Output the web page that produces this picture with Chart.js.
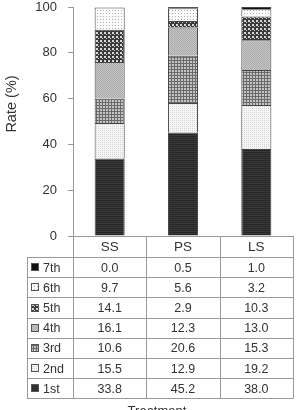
<!DOCTYPE html>
<html lang="en">
<head>
    <meta charset="UTF-8">
    <title>Rate by treatment</title>
    <script src="https://cdn.jsdelivr.net/npm/chart.js"></script>
    <style>
        body {
            margin: 0;
            padding: 0;
            background: #fff;
        }
        #chart-box {
            width: 296px;
            height: 410px;
        }
    </style>
</head>
<body>
    <div id="chart-box">
        <canvas id="rateChart" width="296" height="410"></canvas>
    </div>

    <script>
        // Data
        const treatments = ['SS', 'PS', 'LS'];
        const stageNames = ['1st', '2nd', '3rd', '4th', '5th', '6th', '7th'];
        const rate1st = [33.8, 45.2, 38.0];
        const rate2nd = [15.5, 12.9, 19.2];
        const rate3rd = [10.6, 20.6, 15.3];
        const rate4th = [16.1, 12.3, 13.0];
        const rate5th = [14.1, 2.9, 10.3];
        const rate6th = [9.7, 5.6, 3.2];
        const rate7th = [0.0, 0.5, 1.0];
        const stageRates = [rate1st, rate2nd, rate3rd, rate4th, rate5th, rate6th, rate7th];
        const yTicks = [0, 20, 40, 60, 80, 100];

        const textColor = '#333';
        const lineColor = '#999';
        const fontName = '"Liberation Sans", Arial, sans-serif';

        // small pixel patterns, one per stage
        function makePattern(size, bg, dots) {
            const c = document.createElement('canvas');
            c.width = size;
            c.height = size;
            const g = c.getContext('2d');
            g.fillStyle = bg;
            g.fillRect(0, 0, size, size);
            dots.forEach(d => {
                g.fillStyle = d[2];
                g.fillRect(d[0], d[1], d[3] || 1, d[4] || 1);
            });
            return g.createPattern(c, 'repeat');
        }

        const patterns = [
            makePattern(2, '#3a3a3a', [[0, 0, '#262626', 2, 1]]),                 // 1st
            makePattern(2, '#f6f6f6', [[0, 0, '#d4d4d4']]),                       // 2nd
            makePattern(3, '#c4c4c4', [[0, 0, '#6a6a6a', 3, 1], [0, 0, '#6a6a6a', 1, 3]]), // 3rd
            makePattern(2, '#c8c8c8', [[0, 0, '#a8a8a8'], [1, 1, '#a8a8a8']]),    // 4th
            makePattern(4, '#3a3a3a', [[0, 0, '#d8d8d8', 2, 2], [2, 2, '#d8d8d8', 1, 1]]), // 5th
            makePattern(3, '#fafafa', [[1, 1, '#b0b0b0']]),                       // 6th
            makePattern(1, '#111', [])                                            // 7th
        ];

        const datasets = stageNames.map((name, i) => ({
            label: name,
            data: stageRates[i],
            backgroundColor: patterns[i],
            borderColor: '#444',
            borderWidth: 1,
            barPercentage: 0.41,
            categoryPercentage: 1
        }));

        // table under the plot: category row + one row per stage
        const tablePlugin = {
            id: 'rateTable',
            afterDraw(chart) {
                const ctx = chart.ctx;
                const area = chart.chartArea;
                const x = chart.scales.x;
                const colW = (area.right - area.left) / treatments.length;
                const headTop = area.bottom;
                const headBottom = headTop + 21;
                const rowH = 20.2;
                const tableLeft = 27;
                const tableBottom = headBottom + rowH * stageNames.length;

                ctx.save();
                ctx.strokeStyle = lineColor;
                ctx.lineWidth = 1;

                // horizontal lines
                ctx.beginPath();
                ctx.moveTo(area.left, headTop + 0.5);
                ctx.lineTo(area.right, headTop + 0.5);
                for (let r = 0; r <= stageNames.length; r++) {
                    const y = Math.round(headBottom + r * rowH) + 0.5;
                    ctx.moveTo(tableLeft, y);
                    ctx.lineTo(area.right, y);
                }
                // vertical lines
                for (let c = 0; c <= treatments.length; c++) {
                    const xx = Math.round(area.left + c * colW) + 0.5;
                    ctx.moveTo(xx, headTop);
                    ctx.lineTo(xx, tableBottom);
                }
                ctx.moveTo(tableLeft + 0.5, headBottom);
                ctx.lineTo(tableLeft + 0.5, tableBottom);
                ctx.stroke();

                ctx.fillStyle = textColor;
                ctx.font = '13.5px ' + fontName;
                ctx.textAlign = 'center';
                ctx.textBaseline = 'middle';
                treatments.forEach((t, c) => {
                    ctx.fillText(t, x.getPixelForValue(c), (headTop + headBottom) / 2 + 1);
                });

                // rows: 7th on top, 1st at the bottom
                ctx.font = '12.5px ' + fontName;
                for (let r = 0; r < stageNames.length; r++) {
                    const s = stageNames.length - 1 - r;
                    const yMid = headBottom + r * rowH + rowH / 2 + 1;

                    ctx.fillStyle = patterns[s];
                    ctx.fillRect(31, Math.round(yMid - 5), 8, 8);
                    ctx.strokeStyle = '#555';
                    ctx.strokeRect(31.5, Math.round(yMid - 5) + 0.5, 7, 7);

                    ctx.fillStyle = textColor;
                    ctx.textAlign = 'left';
                    ctx.fillText(stageNames[s], 43, yMid);
                    ctx.textAlign = 'center';
                    stageRates[s].forEach((v, c) => {
                        ctx.fillText(v.toFixed(1), x.getPixelForValue(c), yMid);
                    });
                }

                ctx.font = '13px ' + fontName;
                ctx.textBaseline = 'top';
                ctx.fillText('Treatment', 157, tableBottom + 7);

                // y axis title, sits a little above the plot middle
                ctx.translate(12, 104);
                ctx.rotate(-Math.PI / 2);
                ctx.font = '14.5px ' + fontName;
                ctx.textBaseline = 'middle';
                ctx.fillText('Rate (%)', 0, 0);
                ctx.restore();
            }
        };

        new Chart(document.getElementById('rateChart'), {
            type: 'bar',
            data: { labels: treatments, datasets: datasets },
            options: {
                responsive: false,
                animation: false,
                layout: { padding: { top: 7, right: 3, bottom: 174, left: 0 } },
                plugins: {
                    legend: { display: false },
                    tooltip: { enabled: false }
                },
                scales: {
                    x: {
                        stacked: true,
                        display: false
                    },
                    y: {
                        stacked: true,
                        min: 0,
                        max: 100,
                        afterFit(scale) {
                            scale.width = 73;
                            scale.paddingTop = 0;
                            scale.paddingBottom = 0;
                        },
                        afterBuildTicks(scale) { scale.ticks = yTicks.map(v => ({ value: v })); },
                        ticks: {
                            color: textColor,
                            font: { family: fontName, size: 13 },
                            padding: 11
                        },
                        grid: {
                            drawOnChartArea: false,
                            drawTicks: true,
                            tickLength: 5,
                            color: lineColor
                        },
                        border: { color: lineColor }
                    }
                }
            },
            plugins: [tablePlugin]
        });
    </script>
</body>
</html>
